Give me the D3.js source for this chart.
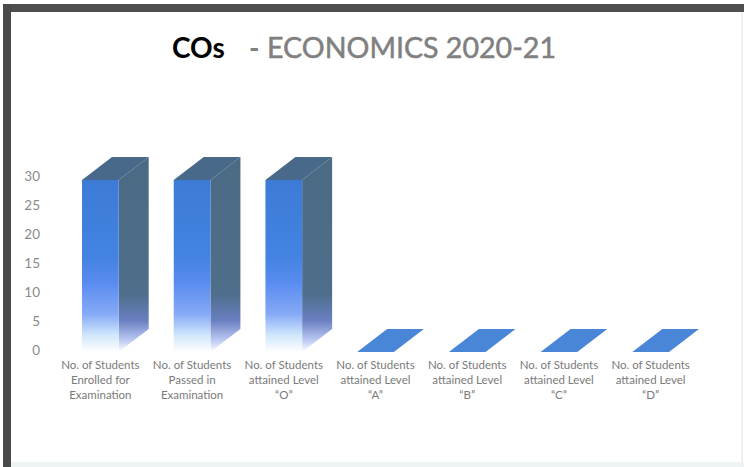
<!DOCTYPE html>
<html>
<head>
<meta charset="utf-8">
<script src="https://cdn.jsdelivr.net/npm/d3@7"></script>
<style>
html,body{margin:0;padding:0;background:#fff;}
svg{display:block;}
</style>
</head>
<body>
<svg id="chart" width="744" height="467"></svg>
<script>
// ---- data ----
const categories = ["enrolled","passed","levelO","levelA","levelB","levelC","levelD"];
const labelLines = [
  ["No. of Students","Enrolled for","Examination"],
  ["No. of Students","Passed in","Examination"],
  ["No. of Students","attained Level","\u201CO\u201D"],
  ["No. of Students","attained Level","\u201CA\u201D"],
  ["No. of Students","attained Level","\u201CB\u201D"],
  ["No. of Students","attained Level","\u201CC\u201D"],
  ["No. of Students","attained Level","\u201CD\u201D"]
];
const values = [30, 30, 30, 0, 0, 0, 0];
const yTicks = [0, 5, 10, 15, 20, 25, 30];
const titleBold = "COs";
const titleRest = "ECONOMICS 2020-21";

const svg = d3.select("#chart");
const defs = svg.append("defs");

// frame
svg.append("rect").attr("x",0).attr("y",0).attr("width",744).attr("height",467).attr("fill","#fff");
svg.append("rect").attr("x",3).attr("y",4).attr("width",741).attr("height",8).attr("fill","#4f4f4f");
svg.append("rect").attr("x",3).attr("y",4).attr("width",8).attr("height",463).attr("fill","#4a4a4a");
svg.append("rect").attr("x",11).attr("y",462).attr("width",733).attr("height",5).attr("fill","#eef3f3");
svg.append("rect").attr("x",741).attr("y",12).attr("width",2).attr("height",455).attr("fill","#f0f0f0");

// title
const t = svg.append("text").attr("y",58).attr("font-family","Lato, sans-serif").attr("font-size",28);
t.append("tspan").attr("x",172).attr("font-weight","bold").attr("fill","#000").text(titleBold);
t.append("tspan").attr("x",249).attr("fill","#7f7f7f").attr("font-weight","bold").text("-");
t.append("tspan").attr("x",267).attr("fill","#808080").attr("stroke","#808080").attr("stroke-width",0.5)
  .attr("textLength",289).attr("lengthAdjust","spacingAndGlyphs").text(titleRest);

// gradients
const gFront = defs.append("linearGradient").attr("id","gFront").attr("x1",0).attr("y1",0).attr("x2",0).attr("y2",1);
[[0,"#3c7bd6"],[0.45,"#4383e2"],[0.6,"#5a8cf0"],[0.78,"#86aaf6"],[0.9,"#cfe6fb"],[1,"#ffffff"]]
  .forEach(([o,c])=>gFront.append("stop").attr("offset",o).attr("stop-color",c));
const gSide = defs.append("linearGradient").attr("id","gSide").attr("x1",0).attr("y1",0).attr("x2",0).attr("y2",1);
[[0,"#4b6a84"],[0.7,"#4e6e8b"],[0.84,"#6a80c2"],[0.94,"#bccaf3"],[1,"#ffffff"]]
  .forEach(([o,c])=>gSide.append("stop").attr("offset",o).attr("stop-color",c));

// scales
const x = d3.scaleBand().domain(categories).range([54.5, 696.5]).paddingInner(0.6).paddingOuter(0.3);
const yBar = d3.scaleLinear().domain([0,30]).range([352,180]);
const yAx = d3.scaleLinear().domain([0,30]).range([350,176]);
const dx = 30, dy = 23;

// y axis
const ax = svg.append("g").attr("transform","translate(40,0)")
  .call(d3.axisLeft(yAx).tickValues(yTicks).tickSize(0).tickPadding(0));
ax.select(".domain").remove();
ax.selectAll("text").attr("font-family","Lato, sans-serif").attr("font-size",13.5).attr("fill","#8a8a8a");

// bars
const bars = svg.append("g").selectAll("g").data(categories.map((c,i)=>({c, v: values[i]}))).join("g");
bars.each(function(d){
  const g = d3.select(this);
  const x0 = x(d.c), w = x.bandwidth();
  const yt = yBar(d.v), yb = yBar(0);
  if (d.v > 0) {
    g.append("polygon").attr("fill","url(#gSide)")
      .attr("points",[[x0+w,yt],[x0+w+dx,yt-dy],[x0+w+dx,yb-dy],[x0+w,yb]].map(p=>p.join(",")).join(" "));
    g.append("rect").attr("x",x0).attr("y",yt).attr("width",w).attr("height",yb-yt).attr("fill","url(#gFront)");
  }
  g.append("polygon").attr("fill", d.v > 0 ? "#48698a" : "#4a86d8")
    .attr("points",[[x0,yt],[x0+w,yt],[x0+w+dx,yt-dy],[x0+dx,yt-dy]].map(p=>p.join(",")).join(" "));
});

// category labels
const lab = svg.append("g").attr("font-family","Lato, sans-serif").attr("font-size",11.5).attr("fill","#7a7a7a").attr("text-anchor","middle");
categories.forEach((c,i)=>{
  const cx = x(c) + x.bandwidth()/2;
  labelLines[i].forEach((ln,j)=>{
    lab.append("text").attr("x",cx).attr("y",369 + j*15).text(ln);
  });
});
</script>
</body>
</html>
